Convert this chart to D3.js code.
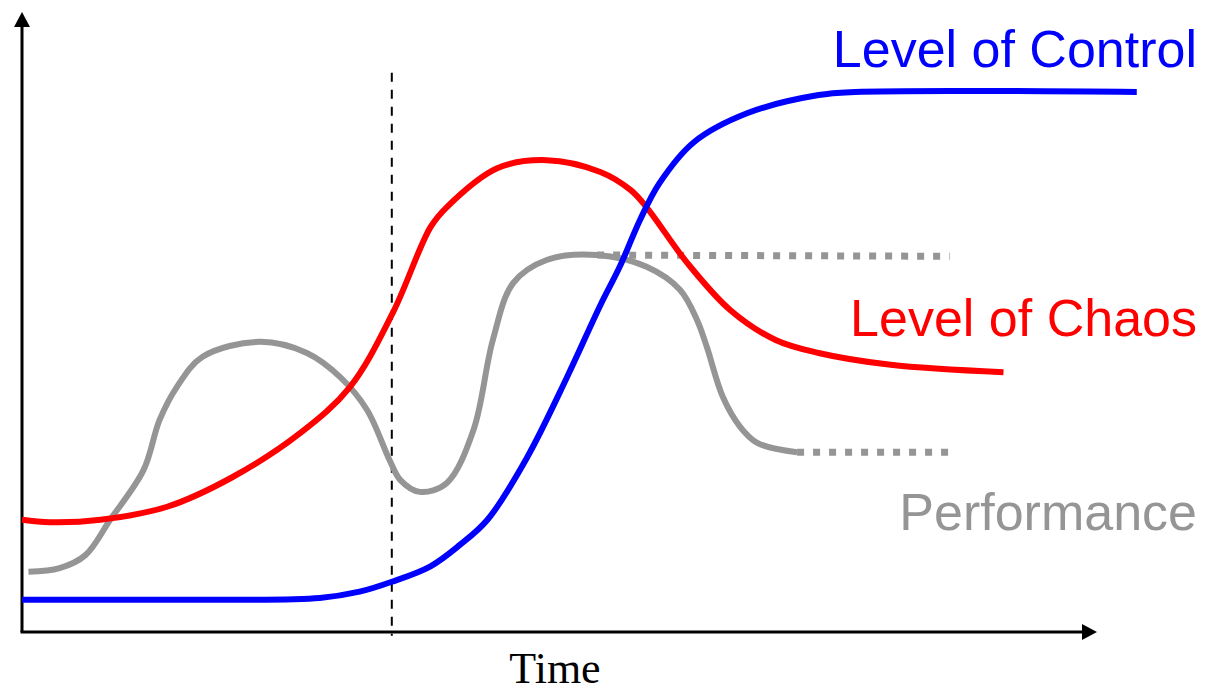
<!DOCTYPE html>
<html>
<head>
<meta charset="utf-8">
<script src="https://cdn.jsdelivr.net/npm/d3@7"></script>
<style>
  html, body { margin: 0; padding: 0; background: #fff; }
  svg { display: block; }
</style>
</head>
<body>
<svg id="chart"></svg>
<script>
const width = 1205;
const height = 694;

// Curve data in chart units (x: time 0-100, y: level 0-100)
const controlX = [0, 11.9, 27.7, 31.4, 34.4, 38.0, 40.7, 43.3, 47.0, 50.7, 53.8, 55.6, 57.5, 59.3, 62.5, 67.5, 74.1, 77.5, 103.7];
const controlY = [5.2, 5.2, 5.5, 6.5, 8.1, 10.6, 14.0, 18.1, 28.2, 41.1, 52.7, 58.9, 66.5, 72.4, 79.0, 83.7, 86.6, 87.1, 87.1];

const chaosX = [0, 2.6, 7.3, 13.5, 19.6, 25.9, 30.5, 34.5, 38.0, 39.5, 44.2, 48.8, 53.8, 56.6, 58.1, 61.9, 65.9, 70.1, 74.1, 80.8, 91.3];
const chaosY = [18.1, 17.7, 18.1, 20.2, 25.0, 32.1, 39.5, 51.5, 65.3, 68.5, 74.8, 76.1, 74.2, 71.3, 68.5, 59.5, 51.9, 47.1, 45.0, 43.1, 41.9];

const perfX = [0.6, 3.5, 5.9, 8.2, 11.3, 12.8, 14.4, 16.8, 22.1, 26.5, 29.6, 32.1, 34.2, 35.2, 37.0, 39.5, 42.0, 43.8, 45.7, 48.8, 53.5, 58.1, 61.2, 62.8, 63.7, 65.2, 66.8, 68.4, 72.1];
const perfY = [9.7, 10.3, 12.4, 18.1, 26.1, 34.2, 39.5, 44.4, 46.8, 45.0, 41.1, 35.8, 27.7, 24.5, 22.6, 24.0, 32.6, 47.1, 56.3, 60.0, 60.8, 58.9, 55.2, 50.3, 46.0, 37.9, 33.1, 30.5, 29.0];

// Dotted "potential" performance levels
const perfHighX = [53.5, 86.3];
const perfHighY = [60.8, 60.6];
const perfLowX = [72.1, 86.3];
const perfLowY = [29.0, 29.0];

// Intervention marker
const markerX = 34.4;
const markerY = [90.2, -0.6];

const labels = ["Level of Control", "Level of Chaos", "Performance"];
const labelY = [91.1, 47.7, 16.5];
const labelColors = ["#0000ff", "#ff0000", "#959595"];
const xAxisTitle = "Time";

const svg = d3.select("#chart")
  .attr("width", width)
  .attr("height", height);

const x = d3.scaleLinear().domain([0, 100]).range([22, 1097]);
const y = d3.scaleLinear().domain([0, 100]).range([632, 12]);

const zip = (xs, ys) => xs.map((v, i) => [v, ys[i]]);

const line = d3.line()
  .x(d => x(d[0]))
  .y(d => y(d[1]))
  .curve(d3.curveCatmullRom.alpha(0.5));

const straight = d3.line()
  .x(d => x(d[0]))
  .y(d => y(d[1]));

// Axes with arrow heads
const axisG = svg.append("g");

axisG.append("line")
  .attr("x1", x(0)).attr("y1", y(0))
  .attr("x2", x(0)).attr("y2", y(100) + 14)
  .attr("stroke", "#000").attr("stroke-width", 3);

axisG.append("line")
  .attr("x1", x(0) - 1.5).attr("y1", y(0))
  .attr("x2", x(100) - 14).attr("y2", y(0))
  .attr("stroke", "#000").attr("stroke-width", 3);

axisG.append("path")
  .attr("d", `M${x(0)},${y(100)} L${x(0) - 8},${y(100) + 15} L${x(0) + 8},${y(100) + 15} Z`)
  .attr("fill", "#000");

axisG.append("path")
  .attr("d", `M${x(100)},${y(0)} L${x(100) - 15},${y(0) - 8} L${x(100) - 15},${y(0) + 8} Z`)
  .attr("fill", "#000");

// Vertical dashed marker
svg.append("line")
  .attr("x1", x(markerX)).attr("x2", x(markerX))
  .attr("y1", y(markerY[0])).attr("y2", y(markerY[1]))
  .attr("stroke", "#000")
  .attr("stroke-width", 2)
  .attr("stroke-dasharray", "9,8");

// Dotted performance extensions
[zip(perfHighX, perfHighY), zip(perfLowX, perfLowY)].forEach(pts => {
  svg.append("path")
    .attr("d", straight(pts))
    .attr("fill", "none")
    .attr("stroke", "#959595")
    .attr("stroke-width", 7)
    .attr("stroke-dasharray", "7,9");
});

// Curves
const series = [
  { pts: zip(perfX, perfY), color: "#959595" },
  { pts: zip(chaosX, chaosY), color: "#ff0000" },
  { pts: zip(controlX, controlY), color: "#0000ff" }
];

svg.selectAll("path.curve")
  .data(series)
  .enter()
  .append("path")
  .attr("class", "curve")
  .attr("d", d => line(d.pts))
  .attr("fill", "none")
  .attr("stroke", d => d.color)
  .attr("stroke-width", 6);

// Curve labels
svg.selectAll("text.label")
  .data(labels)
  .enter()
  .append("text")
  .attr("class", "label")
  .attr("x", 1197)
  .attr("y", (d, i) => y(labelY[i]))
  .attr("text-anchor", "end")
  .attr("fill", (d, i) => labelColors[i])
  .style("font-family", "'Liberation Sans', Arial, sans-serif")
  .style("font-size", "52px")
  .text(d => d);

// Axis title
svg.append("text")
  .attr("x", 555)
  .attr("y", 683)
  .attr("text-anchor", "middle")
  .style("font-family", "'Liberation Serif', 'Times New Roman', serif")
  .style("font-size", "44px")
  .attr("fill", "#000")
  .text(xAxisTitle);
</script>
</body>
</html>
